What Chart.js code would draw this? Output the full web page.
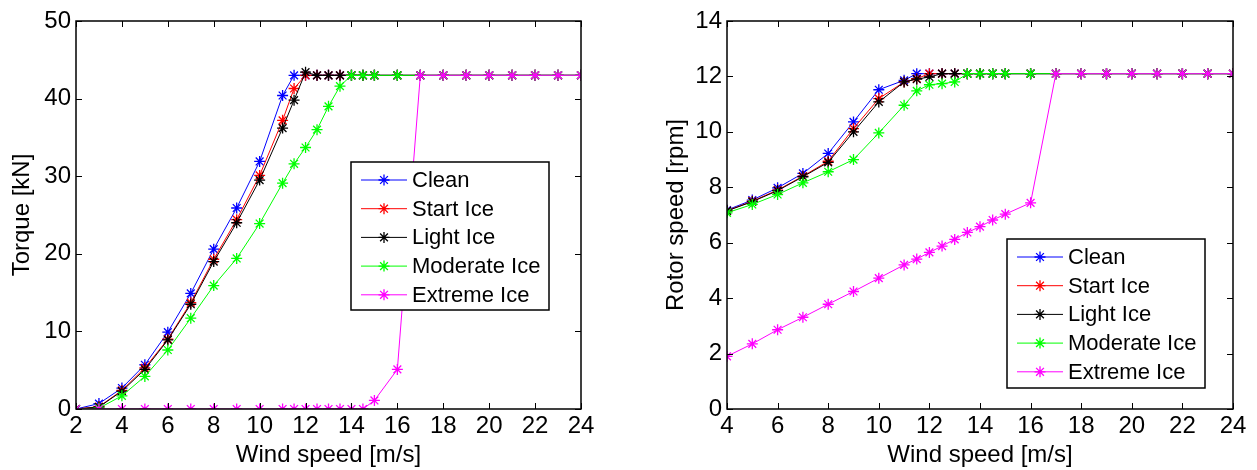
<!DOCTYPE html>
<html>
<head>
<meta charset="utf-8">
<script src="https://cdn.jsdelivr.net/npm/chart.js@4.4.1/dist/chart.umd.min.js"></script>
<style>
    body { margin: 0; background: #fff; }
    #page { position: relative; width: 1257px; height: 470px; overflow: hidden; }
    #graphTorque { position: absolute; left: 0; top: 0; }
    #graphRotor { position: absolute; left: 627px; top: 0; }
</style>
</head>
<body>
<div id="page">
    <canvas id="graphTorque" width="620" height="470"></canvas>
    <canvas id="graphRotor" width="630" height="470"></canvas>
</div>
<script>
// Series names and colours
var series = ['Clean', 'Start Ice', 'Light Ice', 'Moderate Ice', 'Extreme Ice'];
var couleurs = ['#0000FF', '#FF0000', '#000000', '#00FF00', '#FF00FF'];

// Torque - wind speed [m/s]
var vent_Torque = [2, 3, 4, 5, 6, 7, 8, 9, 10, 11, 11.5, 12, 12.5, 13, 13.5, 14, 14.5, 15, 16, 17, 18, 19, 20, 21, 22, 23, 24];
// Torque [kN]
var torque_Clean = [0, 0.7, 2.7, 5.7, 9.9, 14.9, 20.6, 25.9, 31.9, 40.4, 43, 43, 43, 43, 43, 43, 43, 43, 43, 43, 43, 43, 43, 43, 43, 43, 43];
var torque_Start = [0, 0.3, 2.4, 5.3, 9.0, 13.7, 19.3, 24.4, 30.1, 37.2, 41.3, 43, 43, 43, 43, 43, 43, 43, 43, 43, 43, 43, 43, 43, 43, 43, 43];
var torque_Light = [0, 0.26, 2.3, 5.1, 8.9, 13.5, 19.0, 24.0, 29.5, 36.2, 39.8, 43.4, 43, 43, 43, 43, 43, 43, 43, 43, 43, 43, 43, 43, 43, 43, 43];
var torque_Moderate = [0, 0.1, 1.7, 4.2, 7.6, 11.7, 15.9, 19.4, 23.9, 29.1, 31.6, 33.7, 36.0, 39.0, 41.6, 43, 43, 43, 43, 43, 43, 43, 43, 43, 43, 43, 43];
var torque_Extreme = [0, 0, 0, 0, 0, 0, 0, 0, 0, 0, 0, 0, 0, 0, 0, 0, 0, 1.1, 5.1, 43, 43, 43, 43, 43, 43, 43, 43];
var ticks_Torque_X = [2, 24, 2];   // min, max, step
var ticks_Torque_Y = [0, 50, 10];

// Rotor speed - wind speed [m/s]
var vent_Rotor = [4, 5, 6, 7, 8, 9, 10, 11, 11.5, 12, 12.5, 13, 13.5, 14, 14.5, 15, 16, 17, 18, 19, 20, 21, 22, 23, 24];
// Rotor speed [rpm]
var rotor_Clean = [7.18, 7.54, 7.98, 8.5, 9.22, 10.36, 11.52, 11.86, 12.1, 12.1, 12.1, 12.1, 12.1, 12.1, 12.1, 12.1, 12.1, 12.1, 12.1, 12.1, 12.1, 12.1, 12.1, 12.1, 12.1];
var rotor_Start = [7.15, 7.5, 7.9, 8.4, 8.94, 10.12, 11.2, 11.8, 11.92, 12.1, 12.1, 12.1, 12.1, 12.1, 12.1, 12.1, 12.1, 12.1, 12.1, 12.1, 12.1, 12.1, 12.1, 12.1, 12.1];
var rotor_Light = [7.15, 7.48, 7.88, 8.38, 8.9, 10.0, 11.08, 11.8, 11.9, 11.98, 12.1, 12.1, 12.1, 12.1, 12.1, 12.1, 12.1, 12.1, 12.1, 12.1, 12.1, 12.1, 12.1, 12.1, 12.1];
var rotor_Moderate = [7.08, 7.38, 7.74, 8.16, 8.56, 9.0, 9.96, 10.96, 11.48, 11.7, 11.74, 11.8, 12.1, 12.1, 12.1, 12.1, 12.1, 12.1, 12.1, 12.1, 12.1, 12.1, 12.1, 12.1, 12.1];
var rotor_Extreme = [1.9, 2.35, 2.86, 3.31, 3.78, 4.24, 4.72, 5.2, 5.41, 5.65, 5.88, 6.12, 6.37, 6.58, 6.82, 7.03, 7.44, 12.1, 12.1, 12.1, 12.1, 12.1, 12.1, 12.1, 12.1];
var ticks_Rotor_X = [4, 24, 2];
var ticks_Rotor_Y = [0, 14, 2];

Chart.defaults.font.family = '"Liberation Sans", Arial, sans-serif';
Chart.defaults.color = '#000';

//------------------------------------------------------------------------------------------------------------------------
// Matlab '*' marker
function DrawStar(ctx, x, y, r) {
    var d = r * 0.7071;
    ctx.beginPath();
    ctx.moveTo(x - r, y); ctx.lineTo(x + r, y);
    ctx.moveTo(x, y - r); ctx.lineTo(x, y + r);
    ctx.moveTo(x - d, y - d); ctx.lineTo(x + d, y + d);
    ctx.moveTo(x - d, y + d); ctx.lineTo(x + d, y - d);
    ctx.stroke();
}

// Box around the axes with ticks pointing inside
var cadrePlugin = {
    id: 'cadre',
    afterDatasetsDraw: function (chart) {
        var ctx = chart.ctx;
        var a = chart.chartArea;
        var sx = chart.scales.x;
        var sy = chart.scales.y;
        ctx.save();
        ctx.strokeStyle = '#000';
        ctx.lineWidth = 1;
        ctx.beginPath();
        sx.ticks.forEach(function (t) {
            var px = Math.round(sx.getPixelForValue(t.value)) + 0.5;
            ctx.moveTo(px, a.bottom); ctx.lineTo(px, a.bottom - 6);
            ctx.moveTo(px, a.top); ctx.lineTo(px, a.top + 6);
        });
        sy.ticks.forEach(function (t) {
            var py = Math.round(sy.getPixelForValue(t.value)) + 0.5;
            ctx.moveTo(a.left, py); ctx.lineTo(a.left + 6, py);
            ctx.moveTo(a.right, py); ctx.lineTo(a.right - 6, py);
        });
        ctx.stroke();
        ctx.lineWidth = 1.5;
        ctx.strokeRect(a.left, a.top, a.right - a.left, a.bottom - a.top);
        ctx.restore();
    }
};

// Legend box drawn inside the axes
var legendePlugin = {
    id: 'legende',
    afterDraw: function (chart, args, opts) {
        var ctx = chart.ctx;
        ctx.save();
        ctx.fillStyle = '#fff';
        ctx.fillRect(opts.x, opts.y, opts.w, opts.h);
        ctx.strokeStyle = '#000';
        ctx.lineWidth = 1.5;
        ctx.strokeRect(opts.x, opts.y, opts.w, opts.h);
        ctx.font = '22px "Liberation Sans", Arial, sans-serif';
        ctx.textBaseline = 'middle';
        ctx.textAlign = 'left';
        chart.data.datasets.forEach(function (ds, i) {
            var y = opts.y + 18 + i * 28.7;
            ctx.strokeStyle = ds.borderColor;
            ctx.lineWidth = 1;
            ctx.beginPath();
            ctx.moveTo(opts.x + 10, y); ctx.lineTo(opts.x + 56, y);
            ctx.stroke();
            ctx.lineWidth = 1.3;
            DrawStar(ctx, opts.x + 33, y, 5.5);
            ctx.fillStyle = '#000';
            ctx.fillText(ds.label, opts.x + 61, y + 1);
        });
        ctx.restore();
    }
};

//------------------------------------------------------------------------------------------------------------------------
function BuildDatasets(vent, tab) {
    var datasets = [];
    for (var i = 0; i < tab.length; i++) {
        datasets.push({
            label: series[i],
            data: vent.map(function (v, k) { return { x: v, y: tab[i][k] }; }),
            borderColor: couleurs[i],
            backgroundColor: couleurs[i],
            borderWidth: 1,
            pointStyle: 'star',
            pointRadius: 5.5,
            pointBorderWidth: 1.3,
            pointBorderColor: couleurs[i],
            tension: 0,
            order: tab.length - i
        });
    }
    return datasets;
}

function DisplayGraph(graphId, vent, tab, ticksX, ticksY, titreY, yWidth, padding, titrePad, legende) {
    var ctx = document.getElementById(graphId).getContext('2d');
    var chart = new Chart(ctx, {
        type: 'line',
        data: { datasets: BuildDatasets(vent, tab) },
        options: {
            responsive: false,
            animation: false,
            layout: { padding: padding },
            scales: {
                x: {
                    type: 'linear',
                    min: ticksX[0], max: ticksX[1],
                    grid: { display: false, drawTicks: false },
                    border: { display: false },
                    ticks: { stepSize: ticksX[2], autoSkip: false, maxRotation: 0, padding: 3, font: { size: 24 }, color: '#000' },
                    title: { display: true, text: 'Wind speed [m/s]', font: { size: 24 }, color: '#000', padding: { top: 0, bottom: 0 } },
                    afterFit: function (scale) { scale.height = 61; }
                },
                y: {
                    min: ticksY[0], max: ticksY[1],
                    grid: { display: false, drawTicks: false },
                    border: { display: false },
                    ticks: { stepSize: ticksY[2], padding: 5, font: { size: 24 }, color: '#000' },
                    title: { display: true, text: titreY, font: { size: 24 }, color: '#000', padding: { top: titrePad, bottom: 0 } },
                    afterFit: function (scale) { scale.width = yWidth; }
                }
            },
            plugins: {
                legend: { display: false },
                tooltip: { enabled: false },
                legende: legende
            }
        },
        plugins: [cadrePlugin, legendePlugin]
    });
    return chart;
}

DisplayGraph('graphTorque', vent_Torque,
    [torque_Clean, torque_Start, torque_Light, torque_Moderate, torque_Extreme],
    ticks_Torque_X, ticks_Torque_Y, 'Torque [kN]', 76,
    { left: 0, top: 21, right: 39, bottom: 0 }, 8,
    { x: 351, y: 162, w: 198, h: 148 });

DisplayGraph('graphRotor', vent_Rotor,
    [rotor_Clean, rotor_Start, rotor_Light, rotor_Moderate, rotor_Extreme],
    ticks_Rotor_X, ticks_Rotor_Y, 'Rotor speed [rpm]', 100,
    { left: 0, top: 21, right: 24, bottom: 0 }, 35,
    { x: 380, y: 239, w: 198, h: 149 });
</script>
</body>
</html>
